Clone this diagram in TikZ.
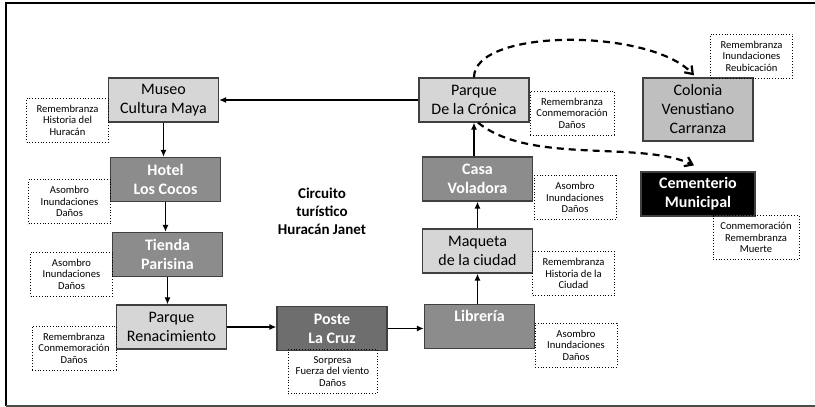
\documentclass[tikz,border=0pt]{standalone}
\usepackage{fontspec}
\setmainfont{Carlito}
\usetikzlibrary{arrows.meta}
\definecolor{lightbox}{gray}{0.84}
\definecolor{midbox}{gray}{0.55}
\definecolor{darkbox}{gray}{0.43}
\definecolor{colbox}{gray}{0.75}
\begin{document}
\begin{tikzpicture}[x=0.5pt, y=-0.5pt, >=latex,
  stop/.style={draw=black!75, line width=0.6pt, minimum width=55pt,
    minimum height=22pt, align=center, inner sep=1pt,
    font=\fontsize{8}{9.5}\selectfont},
  light/.style={stop, fill=lightbox},
  mid/.style={stop, fill=midbox, text=white,
    font=\fontsize{8}{9.5}\selectfont\bfseries},
  memo/.style={draw, densely dotted, line width=0.4pt, minimum width=41pt,
    minimum height=22pt, align=center, inner sep=1pt,
    font=\fontsize{5.3}{5.8}\selectfont},
  route/.style={-{Latex[length=3.5pt,width=3pt]}, line width=0.9pt},
  side/.style={-{Straight Barb[length=3.5pt,width=5pt]}, line width=1.1pt,
    dash pattern=on 3.5pt off 2.5pt}]
  \useasboundingbox (0,0) rectangle (815,407);
  % frame
  \draw [line width=1pt] (816,3) -- (6,3) -- (6,406);
  \draw [line width=1pt, black!70] (6,405.5) -- (816,405.5);

  % stops of the tour
  \node (museo) at (163.5,100) [light] {Museo\\Cultura Maya};
  \node (hotel) at (165.5,179.5) [mid] {Hotel\\Los Cocos};
  \node (tienda) at (167.5,254.5) [mid] {Tienda\\Parisina};
  \node (renac) at (171.5,327) [light] {Parque\\Renacimiento};
  \node (poste) at (332,328.5) [mid, fill=darkbox] {Poste\\La Cruz};
  \node (libreria) at (479.5,326.5) [mid] {Librería\\\phantom{Lp}};
  \node (maqueta) at (477.5,251) [light] {Maqueta\\de la ciudad};
  \node (casa) at (477.5,179) [mid] {Casa\\Voladora};
  \node (cronica) at (474,100) [light] {Parque\\De la Crónica};
  \node (colonia) at (698,109.5) [light, fill=colbox, minimum height=31.5pt]
    {Colonia\\Venustiano\\Carranza};
  \node (cementerio) at (698,194) [mid, fill=black, minimum width=57pt]
    {Cementerio\\Municipal};

  % notes
  \node (m1) at (67.5,120) [memo] {Remembranza\\Historia del\\Huracán};
  \node (m2) at (69.5,201.5) [memo] {Asombro\\Inundaciones\\Daños};
  \node (m3) at (71.5,274) [memo] {Asombro\\Inundaciones\\Daños};
  \node (m4) at (74,348) [memo, minimum width=42pt]
    {Remembranza\\Conmemoración\\Daños};
  \node (m5) at (332.5,371.5) [memo, minimum width=44.5pt]
    {Sorpresa\\Fuerza del viento\\Daños};
  \node (m6) at (576,345) [memo] {Asombro\\Inundaciones\\Daños};
  \node (m7) at (573.5,273.5) [memo] {Remembranza\\Historia de la\\Ciudad};
  \node (m8) at (575,197.5) [memo] {Asombro\\Inundaciones\\Daños};
  \node (m9) at (572,113) [memo, minimum width=42pt]
    {Remembranza\\Conmemoración\\Daños};
  \node (m10) at (751.5,56) [memo] {Remembranza\\Inundaciones\\Reubicación};
  \node (m11) at (756,237.5) [memo, minimum width=43pt]
    {Conmemoración\\Remembranza\\Muerte};

  \node (titulo) at (322,211) [align=center,
    font=\fontsize{7.5}{9}\selectfont\bfseries]
    {Circuito\\turístico\\Huracán Janet};

  % route
  \draw [route] (cronica.west) -- (museo.east);
  \draw [route] (museo.south) -- (museo.south |- hotel.north);
  \draw [route] (hotel.south) -- (hotel.south |- tienda.north);
  \draw [route] (tienda.south) -- (tienda.south |- renac.north);
  \draw [route] (renac.east) -- (renac.east -| poste.west);
  \draw [route] (poste.east) -- (poste.east -| libreria.west);
  \draw [route] (libreria.north -| maqueta.south) -- (maqueta.south);
  \draw [route] (maqueta.north) -- (casa.south);
  \draw [route] (casa.north -| cronica.south) -- (cronica.south);
  \draw [side] (cronica.north) .. controls (474,28) and (650,28)
    .. ([xshift=-2pt,yshift=1pt]colonia.north);
  \draw [side] ([xshift=2pt]cronica.south) .. controls (530,165) and (640,140)
    .. ([xshift=-2pt,yshift=3pt]cementerio.north);
\end{tikzpicture}
\end{document}
